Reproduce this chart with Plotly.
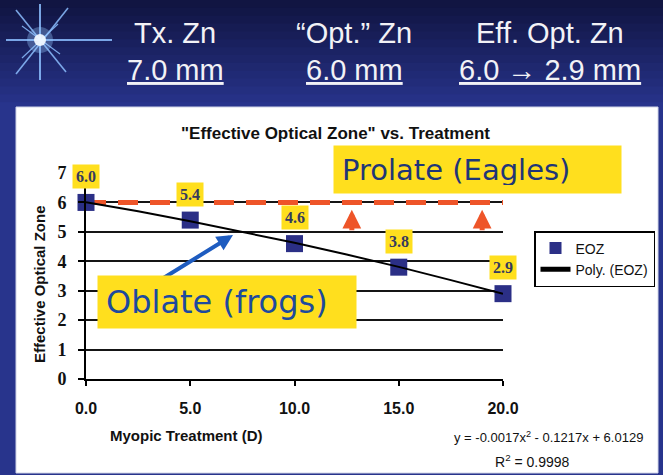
import plotly.graph_objects as go

# ---------------- data ----------------
treatment = [0, 5, 10, 15, 20]                 # Myopic Treatment (D)
eoz = [6.0, 5.4, 4.6, 3.8, 2.9]                # Effective Optical Zone (mm)
trend_x = [0, 2.5, 5, 7.5, 10, 12.5, 15, 17.5, 20]
trend_y = [6.01, 5.70, 5.36, 5.00, 4.63, 4.23, 3.81, 3.36, 2.90]   # Poly. (EOZ) as drawn
optical_zone = [6.0, 6.0]                      # "Opt." zone reference line
optical_x = [0, 20]
x_ticks = [0, 5, 10, 15, 20]
y_ticks = [0, 1, 2, 3, 4, 5, 6, 7]
header_top = ["Tx. Zn", "\u201cOpt.\u201d Zn", "Eff. Opt. Zn"]
header_bottom = ["7.0 mm", "6.0 mm", "6.0 \u2192 2.9 mm"]
equation = "y = -0.0017x<sup>2</sup> - 0.1217x + 6.0129"
r_squared = "R<sup>2</sup> = 0.9998"

# ---------------- layout helpers ----------------
W, H = 663, 475
def PX(x): return x / W
def PY(y): return 1 - y / H

YELLOW = "#FFDF1E"
NAVY_MARK = "#2B2F86"
RED = "#EE5529"
SANS = "Liberation Sans, Arial"

fig = go.Figure()

fig.add_trace(go.Scatter(x=optical_x, y=optical_zone, mode="lines", showlegend=False,
                         line=dict(color=RED, width=5, dash="20px,12px"), hoverinfo="skip"))
fig.add_trace(go.Scatter(x=treatment, y=eoz, mode="markers", name="EOZ",
                         marker=dict(symbol="square", size=17, color=NAVY_MARK),
                         cliponaxis=False))
fig.add_trace(go.Scatter(x=trend_x, y=trend_y, mode="lines", name="Poly. (EOZ)",
                         line=dict(color="black", width=2), cliponaxis=False))

shapes = []
# header gradient
top_c = (17, 21, 66)
bot_c = (40, 52, 140)
n = 14
for i in range(n):
    t = i / (n - 1)
    c = tuple(int(top_c[k] + (bot_c[k] - top_c[k]) * t) for k in range(3))
    shapes.append(dict(type="rect", xref="paper", yref="paper", layer="below",
                       x0=0, x1=1, y0=PY((i + 1) * 110 / n + 1), y1=PY(i * 110 / n),
                       fillcolor="rgb(%d,%d,%d)" % c, line=dict(width=0)))
# white panel
shapes.append(dict(type="rect", xref="paper", yref="paper", layer="below",
                   x0=PX(16), x1=PX(658), y0=PY(473), y1=PY(107),
                   fillcolor="white", line=dict(color="#d0d4e8", width=1)))
# star
cx, cy = 40, 40
rays = [((6, 40), (112, 40), 2.2), ((40, 4), (40, 80), 2.0),
        ((16, 10), (66, 72), 1.6), ((68, 8), (16, 74), 1.6),
        ((22, 26), (60, 54), 1.2), ((58, 24), (22, 58), 1.2)]
for (a, b, w) in rays:
    shapes.append(dict(type="line", xref="paper", yref="paper",
                       x0=PX(a[0]), y0=PY(a[1]), x1=PX(b[0]), y1=PY(b[1]),
                       line=dict(color="rgba(140,190,255,0.85)", width=w)))
shapes.append(dict(type="circle", xref="paper", yref="paper",
                   x0=PX(cx - 13), x1=PX(cx + 13), y0=PY(cy + 13), y1=PY(cy - 13),
                   fillcolor="rgba(150,200,255,0.35)", line=dict(width=0)))
shapes.append(dict(type="circle", xref="paper", yref="paper",
                   x0=PX(cx - 6), x1=PX(cx + 6), y0=PY(cy + 6), y1=PY(cy - 6),
                   fillcolor="rgba(240,248,255,0.95)", line=dict(width=0)))

annotations = []
def label(x, y, text, font, **kw):
    d = dict(xref="paper", yref="paper", x=PX(x), y=PY(y), text=text, showarrow=False,
             xanchor="center", yanchor="middle", font=font)
    d.update(kw)
    annotations.append(d)

# header text
hx = [175, 354, 550]
for i in range(3):
    label(hx[i], 33, header_top[i], dict(family=SANS, size=29, color="#F2F2F6"))
    label(hx[i], 70, header_bottom[i], dict(family=SANS, size=29, color="#F2F2F6",
                                            lineposition="under"))
# chart title
label(335, 133, '"Effective Optical Zone" vs. Treatment',
      dict(family=SANS, size=17, color="#111111", weight="bold"))
# axis titles
label(39, 284, "Effective Optical Zone",
      dict(family=SANS, size=15, color="#111111", weight="bold"), textangle=-90)
label(186, 435, "Myopic Treatment (D)",
      dict(family=SANS, size=15, color="#111111", weight="bold"))
# trendline equation
label(548, 437, equation, dict(family=SANS, size=13, color="#111111"))
label(532, 461, r_squared, dict(family=SANS, size=14, color="#111111"))

# data labels
for xv, yv in zip(treatment, eoz):
    annotations.append(dict(x=xv, y=yv, xref="x", yref="y", text="%.1f" % yv, showarrow=False,
                            xanchor="center", yanchor="middle",
                            yshift=26, bgcolor=YELLOW, borderpad=3,
                            font=dict(family="Liberation Serif, Times New Roman", size=16,
                                      color="#353A5E", weight="bold")))
# red up arrows (toward prolate line)
for ax_ in [12.75, 19.0]:
    annotations.append(dict(x=ax_, y=5.75, ax=ax_, ay=5.0, xref="x", yref="y", axref="x", ayref="y",
                            text="", showarrow=True, arrowhead=2, arrowsize=0.75, arrowwidth=5,
                            arrowcolor=RED, standoff=0, startstandoff=0))
# blue arrow pointing to the curve
annotations.append(dict(x=7.05, y=4.89, ax=3.55, ay=3.36, xref="x", yref="y", axref="x", ayref="y",
                        text="", showarrow=True, arrowhead=2, arrowsize=0.8, arrowwidth=4,
                        arrowcolor="#1E5CC0", standoff=0))
# callout boxes
annotations.append(dict(xref="paper", yref="paper", x=PX(333), y=PY(145), xanchor="left", yanchor="top",
                        text="Prolate (Eagles)", showarrow=False, align="left",
                        width=271, height=31, borderpad=8, bgcolor=YELLOW,
                        font=dict(family="DejaVu Sans", size=29, color="#1F3677")))
annotations.append(dict(xref="paper", yref="paper", x=PX(97), y=PY(275), xanchor="left", yanchor="top",
                        text="Oblate (frogs)", showarrow=False, align="left",
                        width=242, height=36, borderpad=8, bgcolor=YELLOW,
                        font=dict(family="DejaVu Sans", size=32, color="#1D4A9E")))

fig.update_layout(
    width=W, height=H, autosize=False,
    margin=dict(l=0, r=0, t=0, b=0, pad=0, autoexpand=False),
    paper_bgcolor="rgb(40,52,140)",
    plot_bgcolor="#C0C1C6",
    shapes=shapes,
    annotations=annotations,
    showlegend=True,
    legend=dict(x=PX(534), y=PY(231), xanchor="left", yanchor="top",
                bgcolor="white", bordercolor="black", borderwidth=1.5,
                font=dict(family=SANS, size=14, color="#111111"), itemsizing="constant",
                traceorder="normal", itemwidth=30, tracegroupgap=0),
    xaxis=dict(domain=[PX(86), PX(503)], range=[0, 20], tickvals=x_ticks, automargin=False,
               ticktext=["%.1f" % v for v in x_ticks], ticks="outside", ticklen=5,
               tickwidth=1.5, tickcolor="black", showgrid=False, zeroline=False,
               showline=True, linecolor="black", linewidth=2, ticklabelstandoff=9,
               tickfont=dict(family=SANS, size=16, color="#111111", weight="bold")),
    yaxis=dict(domain=[PY(379), PY(173)], range=[0, 7], tickvals=y_ticks, automargin=False,
               ticks="outside", ticklen=6, tickwidth=1.5, tickcolor="black",
               showgrid=True, gridcolor="#151515", gridwidth=1.5, zeroline=False,
               showline=True, linecolor="black", linewidth=2, ticklabelstandoff=8,
               tickfont=dict(family="Liberation Serif, Times New Roman", size=18,
                             color="#111111", weight="bold")),
)

fig.write_html("out.html", config={"displayModeBar": False},
               post_script="document.body.style.margin='0';document.body.style.background='rgb(40,52,140)';")
